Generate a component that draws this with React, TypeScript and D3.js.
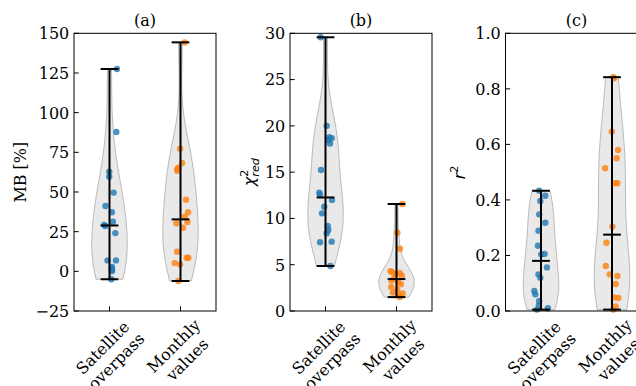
import React, { useEffect, useRef } from "react";
import * as d3 from "d3";

const W = 636;
const H = 386;

const categoryLines = [["Satellite", "overpass"], ["Monthly", "values"]];
const panelTitles = ["(a)", "(b)", "(c)"];

// Panel (a): MB [%]
const mbSatValues = [127.5, 87.8, 62.8, 59.6, 49.6, 41.2, 37.2, 31.3, 29.3, 28.5, 24.1, 6.9, 6.9, 2.8, 1.8, 1.0, 0.2, -5.0];
const mbSatJitter = [0.105, 0.096, -0.004, -0.004, 0.058, -0.056, 0.034, 0.048, -0.075, -0.06, 0.082, -0.027, 0.091, 0.034, 0.03, 0.036, 0.034, 0.025];
const mbMonValues = [144.3, 77.3, 68.3, 65.3, 64.5, 63.4, 45.1, 37.2, 34.4, 31.1, 30.3, 27.5, 12.4, 8.6, 8.6, 5.2, 4.4, -6.1];
const mbMonJitter = [0.06, -0.006, 0.022, -0.03, -0.04, -0.048, 0.079, 0.107, 0.06, 0.098, -0.058, 0.036, -0.048, 0.089, 0.11, -0.082, -0.006, -0.03];

// Panel (b): reduced chi-square
const chiSatValues = [29.57, 20.0, 18.77, 18.66, 18.47, 18.1, 15.23, 12.78, 12.53, 12.0, 11.27, 10.55, 9.2, 8.75, 8.4, 7.42, 7.49, 4.86];
const chiSatJitter = [-0.068, 0.017, 0.054, 0.087, 0.04, 0.063, -0.063, -0.087, -0.077, 0.092, -0.017, -0.049, 0.031, 0.04, 0.017, -0.077, 0.087, 0.068];
const chiMonValues = [11.56, 8.46, 6.73, 4.3, 4.2, 4.1, 4.0, 3.8, 3.6, 3.3, 3.1, 2.9, 2.6, 2.3, 2.0, 1.9, 1.7, 1.5];
const chiMonJitter = [0.082, 0.012, 0.049, -0.085, -0.06, 0.045, -0.01, 0.075, -0.03, -0.07, 0.02, 0.06, -0.075, 0.01, -0.05, 0.085, 0.03, 0.045];

// Panel (c): r^2
const r2SatValues = [0.433, 0.415, 0.396, 0.348, 0.318, 0.289, 0.235, 0.205, 0.204, 0.157, 0.132, 0.12, 0.072, 0.06, 0.036, 0.02, 0.01, 0.005];
const r2SatJitter = [-0.025, 0.06, -0.01, -0.025, 0.06, -0.035, -0.043, 0.05, 0.003, 0.083, -0.035, -0.01, -0.094, -0.08, -0.025, -0.03, 0.097, -0.057];
const r2MonValues = [0.842, 0.838, 0.646, 0.58, 0.55, 0.514, 0.46, 0.46, 0.304, 0.246, 0.162, 0.132, 0.126, 0.097, 0.049, 0.047, 0.016, 0.005];
const r2MonJitter = [0.02, 0.03, -0.003, 0.085, 0.066, -0.097, 0.043, 0.076, 0.006, -0.078, -0.087, -0.031, 0.076, 0.052, 0.029, 0.09, 0.052, 0.02];

const mbTicks = [-25, 0, 25, 50, 75, 100, 125, 150];
const chiTicks = [0, 5, 10, 15, 20, 25, 30];
const r2Ticks = [0, 0.2, 0.4, 0.6, 0.8, 1.0];

const seriesColors = ["#1f77b4", "#ff7f0e"];

const FONT = "'DejaVu Serif', serif";
const MATH = "'DejaVu Sans', sans-serif";
const FS = 16;

const TOP = 33.3;
const BOTTOM = 311;
const PW = 142;
const panelLefts = [74, 290, 505.5];

type Panel = {
  domain: [number, number];
  ticks: number[];
  fmt: (v: number) => string;
  series: { values: number[]; jitter: number[] }[];
};

const panels: Panel[] = [
  {
    domain: [-25, 150],
    ticks: mbTicks,
    fmt: d3.format("d"),
    series: [
      { values: mbSatValues, jitter: mbSatJitter },
      { values: mbMonValues, jitter: mbMonJitter },
    ],
  },
  {
    domain: [0, 30],
    ticks: chiTicks,
    fmt: d3.format("d"),
    series: [
      { values: chiSatValues, jitter: chiSatJitter },
      { values: chiMonValues, jitter: chiMonJitter },
    ],
  },
  {
    domain: [0, 1],
    ticks: r2Ticks,
    fmt: d3.format(".1f"),
    series: [
      { values: r2SatValues, jitter: r2SatJitter },
      { values: r2MonValues, jitter: r2MonJitter },
    ],
  },
];

function kde(values: number[], n = 100) {
  const N = values.length;
  const sd = d3.deviation(values) as number;
  const bw = sd * Math.pow(N, -0.2);
  const lo = d3.min(values) as number;
  const hi = d3.max(values) as number;
  const out: [number, number][] = [];
  for (let i = 0; i < n; i++) {
    const c = lo + ((hi - lo) * i) / (n - 1);
    let s = 0;
    for (const v of values) {
      const z = (c - v) / bw;
      s += Math.exp(-0.5 * z * z);
    }
    out.push([c, s / (N * bw * Math.sqrt(2 * Math.PI))]);
  }
  return out;
}

export default function App() {
  const ref = useRef<SVGSVGElement>(null);

  useEffect(() => {
    const svg = d3.select(ref.current);
    svg.selectAll("*").remove();
    svg.append("rect").attr("width", W).attr("height", H).attr("fill", "#fff");

    panels.forEach((p, pi) => {
      const left = panelLefts[pi];
      const x = d3.scaleLinear().domain([0.5, 2.5]).range([left, left + PW]);
      const y = d3.scaleLinear().domain(p.domain).range([BOTTOM, TOP]);
      const g = svg.append("g");

      // violin bodies
      p.series.forEach((s, si) => {
        const pos = si + 1;
        const dens = kde(s.values);
        const maxD = d3.max(dens, (d) => d[1]) as number;
        const area = d3
          .area<[number, number]>()
          .y((d) => y(d[0]))
          .x0((d) => x(pos - (0.25 * d[1]) / maxD))
          .x1((d) => x(pos + (0.25 * d[1]) / maxD));
        g.append("path")
          .attr("d", area(dens) as string)
          .attr("fill", "#d3d3d3")
          .attr("fill-opacity", 0.5)
          .attr("stroke", "#808080")
          .attr("stroke-opacity", 0.5)
          .attr("stroke-width", 1);
      });

      // points
      p.series.forEach((s, si) => {
        const pos = si + 1;
        g.selectAll(null)
          .data(s.values)
          .enter()
          .append("circle")
          .attr("cx", (_d, i) => x(pos + s.jitter[i]))
          .attr("cy", (d) => y(d))
          .attr("r", 3.2)
          .attr("fill", seriesColors[si])
          .attr("fill-opacity", 0.8);
      });

      // stat lines
      p.series.forEach((s, si) => {
        const pos = si + 1;
        const mn = d3.min(s.values) as number;
        const mx = d3.max(s.values) as number;
        const md = d3.median(s.values) as number;
        const line = (x1: number, y1: number, x2: number, y2: number) =>
          g.append("line")
            .attr("x1", x1).attr("y1", y1).attr("x2", x2).attr("y2", y2)
            .attr("stroke", "#000").attr("stroke-width", 2);
        line(x(pos), y(mn), x(pos), y(mx));
        [mn, mx, md].forEach((v) => line(x(pos - 0.125), y(v), x(pos + 0.125), y(v)));
      });

      // spines
      g.append("rect")
        .attr("x", left).attr("y", TOP).attr("width", PW).attr("height", BOTTOM - TOP)
        .attr("fill", "none").attr("stroke", "#000").attr("stroke-width", 1);

      // y ticks
      p.ticks.forEach((t) => {
        g.append("line")
          .attr("x1", left).attr("x2", left + 4.7)
          .attr("y1", y(t)).attr("y2", y(t))
          .attr("stroke", "#000").attr("stroke-width", 1);
        g.append("text")
          .attr("x", left - 4.7)
          .attr("y", y(t) + 5.9)
          .attr("text-anchor", "end")
          .attr("font-family", FONT)
          .attr("font-size", FS)
          .attr("fill", "#000")
          .text(p.fmt(t));
      });

      // x ticks + rotated labels
      categoryLines.forEach((lines, ci) => {
        const pos = ci + 1;
        const tx = x(pos);
        g.append("line")
          .attr("x1", tx).attr("x2", tx)
          .attr("y1", BOTTOM).attr("y2", BOTTOM - 4.7)
          .attr("stroke", "#000").attr("stroke-width", 1);
        const outer = g.append("g");
        const inner = outer.append("g").attr("transform", "rotate(-45)");
        const lineH = FS * 1.2;
        const blockH = lineH * (lines.length - 1) + FS * 1.164;
        let maxW = 0;
        lines.forEach((ln, li) => {
          const t = inner.append("text")
            .attr("x", 0)
            .attr("y", -blockH / 2 + FS * 0.928 + li * lineH)
            .attr("text-anchor", "middle")
            .attr("font-family", FONT)
            .attr("font-size", FS)
            .attr("fill", "#000")
            .text(ln);
          const w = (t.node() as SVGTextElement).getComputedTextLength();
          if (w > maxW) maxW = w;
        });
        const ext = (maxW + blockH) / Math.SQRT2;
        outer.attr("transform", `translate(${tx},${BOTTOM + 4.7 + ext / 2})`);
      });

      // title
      g.append("text")
        .attr("x", left + PW / 2)
        .attr("y", 25.5)
        .attr("text-anchor", "middle")
        .attr("font-family", FONT)
        .attr("font-size", FS)
        .attr("fill", "#000")
        .text(panelTitles[pi]);
    });

    // y labels
    const cy = (TOP + BOTTOM) / 2;
    svg.append("text")
      .attr("transform", `translate(25.5,${cy}) rotate(-90)`)
      .attr("text-anchor", "middle")
      .attr("font-family", FONT)
      .attr("font-size", FS)
      .attr("fill", "#000")
      .text("MB [%]");

    const chi = svg.append("g").attr("transform", `translate(255,${cy}) rotate(-90)`);
    chi.append("text")
      .attr("x", -14).attr("y", 0)
      .attr("font-family", MATH).attr("font-style", "italic")
      .attr("font-size", FS).attr("fill", "#000")
      .text("χ");
    chi.append("text")
      .attr("x", -4.5).attr("y", -6.8)
      .attr("font-family", MATH)
      .attr("font-size", FS * 0.7).attr("fill", "#000")
      .text("2");
    chi.append("text")
      .attr("x", -4.5).attr("y", 3.5)
      .attr("font-family", MATH).attr("font-style", "italic")
      .attr("font-size", FS * 0.7).attr("fill", "#000")
      .text("red");

    const r2 = svg.append("g").attr("transform", `translate(465,${cy}) rotate(-90)`);
    r2.append("text")
      .attr("x", -7).attr("y", 0)
      .attr("font-family", MATH).attr("font-style", "italic")
      .attr("font-size", FS).attr("fill", "#000")
      .text("r");
    r2.append("text")
      .attr("x", -0.5).attr("y", -6.8)
      .attr("font-family", MATH)
      .attr("font-size", FS * 0.7).attr("fill", "#000")
      .text("2");
  }, []);

  return (
    <svg
      ref={ref}
      width={W}
      height={H}
      style={{ position: "absolute", left: 0, top: 0, display: "block" }}
    />
  );
}
